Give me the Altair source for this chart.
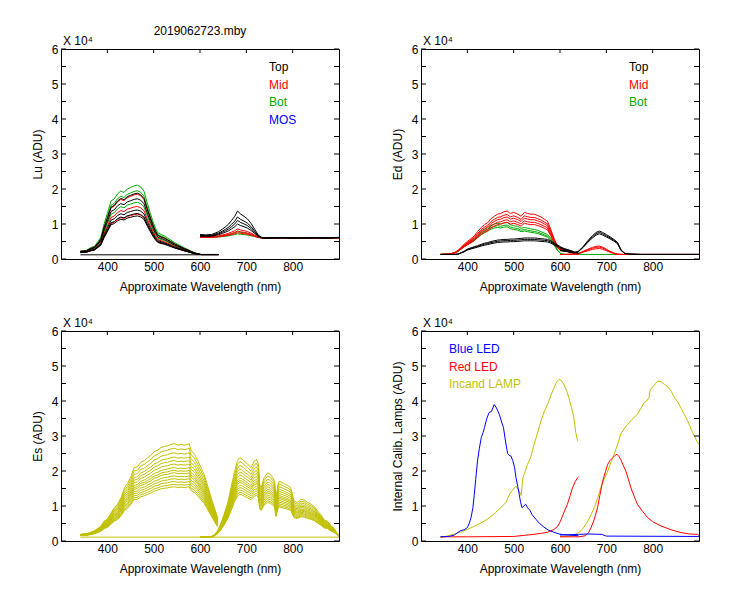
import altair as alt
import pandas as pd

# ---------------- data (values in units of 10^4 ADU) ----------------
X_TICKS = [400, 500, 600, 700, 800]
Y_LABELS = [0, 1, 2, 3, 4, 5, 6]
Y_TICKS = [0, 0.5, 1, 1.5, 2, 2.5, 3, 3.5, 4, 4.5, 5, 5.5, 6]

# Lu panel
LU_WL_A = [342, 355, 365, 372, 380, 386, 393, 400, 408, 415, 422, 429, 436, 443, 450, 458, 465, 472, 479, 487,
           493, 498, 504, 509, 516, 523, 530, 537, 545, 552, 559, 566, 573, 580, 588, 595, 602, 612, 625, 640]
LU_SHAPE_A = [0.23, 0.25, 0.33, 0.36, 0.50, 0.62, 1.00, 1.30, 1.66, 1.72, 1.86, 1.94, 1.90, 2.00, 2.04, 2.09, 2.11, 2.06, 1.94, 1.56,
              1.30, 1.09, 0.88, 0.75, 0.70, 0.66, 0.60, 0.54, 0.47, 0.42, 0.37, 0.32, 0.28, 0.23, 0.18, 0.15, 0.13, 0.13, 0.13, 0.13]
LU_WL_B = [600, 612, 625, 640, 648, 655, 662, 668, 675, 681, 688, 695, 702, 710, 718, 726, 735, 750, 775, 800, 825, 850, 875, 900]
LU_SHAPE_B = [0.70, 0.69, 0.70, 0.78, 0.85, 0.92, 1.00, 1.10, 1.22, 1.37, 1.28, 1.22, 1.15, 1.02, 0.85, 0.68, 0.60, 0.60,
              0.61, 0.60, 0.60, 0.61, 0.60, 0.62]
LU_DARK_A, LU_DARK_B = 0.12, 0.60
LU_TOP_A = [1.23, 1.30, 1.40, 1.72, 1.88]
LU_MID_A = [1.28, 1.50, 1.85]
LU_BOT_A = [1.62, 1.95, 2.11]
LU_TOP_B = [1.00, 1.10, 1.20, 1.37]
LU_MID_B = [0.75, 0.80, 0.86]
LU_BOT_B = [0.72, 0.78]
LU_FLAT_WL = [342, 640]
LU_FLAT = [0.12, 0.12]

# Ed panel
ED_WL_A = [342, 360, 372, 380, 393, 400, 408, 415, 422, 430, 437, 444, 451, 458, 465, 472, 479, 486, 493, 500,
           509, 516, 523, 530, 537, 545, 552, 559, 566, 573, 580, 588, 595, 602, 609, 616, 624, 631, 640]
ED_MID_SHAPE_A = [0.13, 0.14, 0.18, 0.25, 0.42, 0.50, 0.58, 0.66, 0.78, 0.90, 0.98, 1.04, 1.15, 1.22, 1.28, 1.30, 1.35, 1.37, 1.30, 1.33,
                  1.28, 1.22, 1.33, 1.30, 1.28, 1.28, 1.24, 1.20, 1.14, 1.08, 0.85, 0.56, 0.37, 0.30, 0.28, 0.24, 0.20, 0.18, 0.13]
ED_BOT_SHAPE_A = [0.13, 0.14, 0.17, 0.23, 0.38, 0.45, 0.52, 0.58, 0.68, 0.78, 0.84, 0.90, 0.96, 1.00, 1.02, 1.00, 1.03, 1.04, 0.98, 0.95,
                  0.93, 0.88, 0.90, 0.88, 0.86, 0.84, 0.82, 0.78, 0.74, 0.70, 0.60, 0.42, 0.25, 0.15, 0.13, 0.13, 0.13, 0.13, 0.13]
ED_TOP_SHAPE_A = [0.13, 0.13, 0.13, 0.14, 0.22, 0.28, 0.32, 0.35, 0.38, 0.42, 0.45, 0.47, 0.50, 0.52, 0.54, 0.55, 0.56, 0.56, 0.57, 0.57,
                  0.58, 0.59, 0.60, 0.60, 0.60, 0.60, 0.59, 0.58, 0.57, 0.56, 0.52, 0.45, 0.40, 0.34, 0.30, 0.27, 0.24, 0.20, 0.17]
ED_WL_B = [600, 615, 630, 640, 650, 660, 670, 678, 685, 692, 700, 708, 716, 724, 732, 740, 750, 775, 800, 850, 900]
ED_TOP_SHAPE_B = [0.25, 0.22, 0.18, 0.22, 0.35, 0.51, 0.65, 0.74, 0.78, 0.74, 0.68, 0.62, 0.55, 0.47, 0.25, 0.16, 0.14,
                  0.13, 0.13, 0.13, 0.13]
ED_MID_SHAPE_B = [0.13, 0.13, 0.14, 0.16, 0.22, 0.28, 0.33, 0.36, 0.37, 0.34, 0.28, 0.22, 0.17, 0.14, 0.13, 0.13, 0.13,
                  0.13, 0.13, 0.13, 0.13]
ED_BOT_WL_B = [600, 900]
ED_BOT_B = [0.13, 0.13]
ED_DARK = 0.13
ED_TOP_A = [0.52, 0.56, 0.60]
ED_MID_A = [1.05, 1.12, 1.20, 1.27, 1.37]
ED_BOT_A = [0.92, 0.97, 1.04]
ED_TOP_B = [0.72, 0.76, 0.80]
ED_MID_B = [0.30, 0.34, 0.37]

# Es panel
ES_WL_A = [342, 358, 372, 386, 393, 400, 408, 415, 422, 430, 437, 444, 451, 458, 465, 472, 480, 487, 494, 501,
           509, 516, 523, 530, 537, 545, 552, 559, 566, 573, 577, 580, 588, 595, 602, 609, 616, 624, 631, 638]
ES_SHAPE_A = [0.19, 0.22, 0.29, 0.42, 0.57, 0.62, 0.80, 0.95, 1.05, 1.25, 1.52, 1.65, 1.85, 2.10, 2.12, 2.25, 2.30, 2.38, 2.45, 2.55,
              2.60, 2.67, 2.70, 2.72, 2.76, 2.78, 2.74, 2.76, 2.74, 2.76, 2.78, 2.60, 2.48, 2.30, 2.10, 1.90, 1.60, 1.24, 0.95, 0.67]
ES_WL_B = [600, 615, 624, 631, 638, 645, 652, 660, 667, 674, 681, 686, 692, 698, 703, 710, 717, 722, 726, 729,
           732, 738, 746, 752, 757, 761, 764, 768, 771, 780, 790, 796, 803, 810, 818, 825, 832, 840, 847, 854,
           861, 868, 875, 882, 890, 897, 900]
ES_SHAPE_B = [0.11, 0.11, 0.12, 0.18, 0.29, 0.50, 0.76, 1.10, 1.52, 1.95, 2.30, 2.38, 2.33, 2.25, 2.19, 2.10, 2.28, 2.33, 2.20, 1.60,
              1.52, 1.80, 1.95, 1.90, 1.81, 1.70, 1.20, 1.60, 1.71, 1.65, 1.58, 1.52, 1.14, 1.10, 1.19, 1.17, 1.10, 1.05, 0.98, 0.85,
              0.75, 0.60, 0.57, 0.45, 0.35, 0.20, 0.15]
ES_DARK = 0.11
ES_PEAKS_A = [1.55, 1.62, 1.70, 1.78, 1.86, 1.95, 2.02, 2.10, 2.20, 2.30, 2.40, 2.52, 2.65, 2.78]
ES_FLAT_WL = [342, 900]
ES_FLAT = [0.11, 0.11]

# Lamps panel
BLUE_WL_A = [342, 360, 372, 380, 386, 393, 400, 404, 408, 412, 415, 418, 422, 426, 430, 434, 437, 442, 447, 452,
             458, 463, 469, 474, 478, 483, 487, 490, 494, 498, 502, 505, 509, 512, 515, 518, 522, 526, 530, 535,
             540, 548, 556, 565, 575, 587, 598, 608, 620, 640]
BLUE_A = [0.12, 0.13, 0.17, 0.25, 0.30, 0.32, 0.38, 0.50, 0.67, 0.95, 1.33, 1.75, 2.29, 2.65, 2.95, 3.10, 3.24, 3.50, 3.67, 3.70,
          3.90, 3.80, 3.62, 3.40, 3.24, 2.80, 2.50, 2.45, 2.43, 2.30, 2.10, 1.81, 1.55, 1.33, 1.10, 0.95, 1.00, 1.05, 0.95, 0.88,
          0.75, 0.62, 0.50, 0.40, 0.31, 0.25, 0.20, 0.18, 0.17, 0.15]
BLUE_WL_B = [600, 640, 660, 690, 700, 900]
BLUE_B = [0.17, 0.19, 0.20, 0.19, 0.14, 0.13]
RED_WL_A = [342, 400, 500, 544, 560, 573, 587, 595, 601, 608, 616, 622, 627, 633, 638, 640]
RED_A = [0.12, 0.12, 0.13, 0.19, 0.22, 0.25, 0.33, 0.42, 0.57, 0.80, 1.05, 1.30, 1.52, 1.70, 1.81, 1.83]
RED_WL_B = [600, 640, 655, 662, 667, 674, 681, 686, 692, 698, 703, 708, 714, 719, 723, 727, 731, 736, 742, 748,
            753, 760, 767, 778, 789, 800, 818, 840, 861, 880, 897, 900]
RED_B = [0.12, 0.12, 0.15, 0.25, 0.38, 0.62, 0.95, 1.30, 1.71, 1.98, 2.19, 2.30, 2.38, 2.45, 2.48, 2.42, 2.33, 2.18, 2.00, 1.75,
         1.52, 1.28, 1.05, 0.85, 0.67, 0.55, 0.43, 0.32, 0.24, 0.20, 0.19, 0.15]
INC_WL_A = [342, 350, 372, 385, 400, 420, 443, 460, 472, 483, 493, 505, 512, 516, 520, 530, 537, 544, 552, 559,
            566, 573, 580, 587, 593, 598, 603, 608, 614, 619, 625, 630, 634, 638]
INC_A = [0.10, 0.12, 0.20, 0.25, 0.33, 0.45, 0.62, 0.80, 0.95, 1.10, 1.38, 1.57, 1.43, 1.30, 1.81, 2.19, 2.40, 2.76, 3.10, 3.43,
         3.70, 3.90, 4.15, 4.38, 4.55, 4.62, 4.58, 4.48, 4.30, 4.10, 3.80, 3.52, 3.10, 2.86]
INC_WL_B = [600, 624, 635, 645, 652, 660, 667, 674, 681, 688, 695, 703, 710, 717, 724, 731, 738, 746, 756, 767,
            775, 781, 787, 792, 795, 800, 806, 811, 818, 825, 833, 840, 847, 855, 862, 868, 875, 880, 886, 890,
            895, 900]
INC_B = [0.12, 0.15, 0.20, 0.29, 0.40, 0.57, 0.75, 0.95, 1.22, 1.52, 1.75, 2.00, 2.25, 2.48, 2.75, 3.05, 3.20, 3.33, 3.48, 3.62,
         3.80, 3.95, 4.00, 4.10, 4.33, 4.40, 4.50, 4.57, 4.55, 4.48, 4.40, 4.28, 4.10, 3.95, 3.78, 3.62, 3.45, 3.30, 3.10, 3.00,
         2.86, 2.76]

TITLE = "2019062723.mby"
LU_LEGEND = ["Top", "Mid", "Bot", "MOS"]
ED_LEGEND = ["Top", "Mid", "Bot"]
LAMP_LEGEND = ["Blue LED", "Red LED", "Incand LAMP"]

# ---------------- styling ----------------
BLACK, RED, GREEN, BLUE, OLIVE = "#000000", "#FF0000", "#00AA00", "#0000FF", "#C0C000"
FONT = "Liberation Sans"
W, H = 278, 210

# ---------------- helpers ----------------
def family(wl, shape, dark, peaks, prefix, color, ref_max=None):
    """Spectra read as a common shape and the peak level of each curve."""
    rows = []
    top = max(shape) if ref_max is None else ref_max
    for k, p in enumerate(peaks):
        f = (p - dark) / (top - dark)
        for w, s in zip(wl, shape):
            rows.append({"wl": w, "v": dark + f * (s - dark), "cid": f"{prefix}{k}", "col": color})
    return rows


def single(wl, vals, cid, color):
    return [{"wl": w, "v": v, "cid": cid, "col": color} for w, v in zip(wl, vals)]


XENC = alt.X("wl:Q", scale=alt.Scale(domain=[300, 900], nice=False, zero=False),
             axis=alt.Axis(values=X_TICKS, title="Approximate Wavelength (nm)", labelPadding=2, titlePadding=9))


def yenc(title):
    return alt.Y("v:Q", scale=alt.Scale(domain=[0, 6], nice=False, zero=False),
                 axis=alt.Axis(values=Y_LABELS, title=title, labelPadding=3, titlePadding=7))


def text_layer(s, x, y, color="black", align="left"):
    return alt.Chart(pd.DataFrame({"s": [s]})).mark_text(
        align=align, baseline="middle", font=FONT, fontSize=12, color=color).encode(
        x=alt.value(x), y=alt.value(y), text="s:N")


def panel(rows, ytitle, legend, legend_colors, lx, ly, title=None):
    df = pd.DataFrame(rows)
    df["ord"] = range(len(df))
    y = yenc(ytitle)
    lines = alt.Chart(df).mark_line(strokeWidth=1, clip=True).encode(
        x=XENC, y=y, color=alt.Color("col:N", scale=None), detail="cid:N", order="ord:Q")
    ydf = pd.DataFrame({"v": Y_TICKS})
    xdf = pd.DataFrame({"wl": X_TICKS})
    lt = alt.Chart(ydf).mark_rule(color="black", strokeWidth=1).encode(y=y, x=alt.value(0), x2=alt.value(5))
    rt = alt.Chart(ydf).mark_rule(color="black", strokeWidth=1).encode(y=y, x=alt.value(W - 5), x2=alt.value(W))
    tt = alt.Chart(xdf).mark_rule(color="black", strokeWidth=1).encode(x=XENC, y=alt.value(0), y2=alt.value(4))
    layers = [lines, lt, rt, tt, text_layer("X 10\u2074", 2, -8)]
    for i, (lab, c) in enumerate(zip(legend, legend_colors)):
        layers.append(text_layer(lab, lx, ly + 17.5 * i, c))
    if title:
        layers.append(text_layer(title, W / 2, -18, "black", "center"))
    return alt.layer(*layers).properties(width=W, height=H)


# Lu
lu_rows = []
lu_rows += family(LU_WL_A, LU_SHAPE_A, LU_DARK_A, LU_BOT_A, "ga", GREEN)
lu_rows += family(LU_WL_B, LU_SHAPE_B, LU_DARK_B, LU_BOT_B, "gb", GREEN)
lu_rows += family(LU_WL_A, LU_SHAPE_A, LU_DARK_A, LU_MID_A, "ra", RED)
lu_rows += family(LU_WL_B, LU_SHAPE_B, LU_DARK_B, LU_MID_B, "rb", RED)
lu_rows += family(LU_WL_A, LU_SHAPE_A, LU_DARK_A, LU_TOP_A, "ka", BLACK)
lu_rows += family(LU_WL_B, LU_SHAPE_B, LU_DARK_B, LU_TOP_B, "kb", BLACK)
lu_rows += single(LU_FLAT_WL, LU_FLAT, "kflat", BLACK)

# Ed
ed_rows = []
ed_rows += family(ED_WL_A, ED_BOT_SHAPE_A, ED_DARK, ED_BOT_A, "ga", GREEN)
ed_rows += single(ED_BOT_WL_B, ED_BOT_B, "gb", GREEN)
ed_rows += family(ED_WL_A, ED_MID_SHAPE_A, ED_DARK, ED_MID_A, "ra", RED)
ed_rows += family(ED_WL_B, ED_MID_SHAPE_B, ED_DARK, ED_MID_B, "rb", RED)
ed_rows += family(ED_WL_A, ED_TOP_SHAPE_A, ED_DARK, ED_TOP_A, "ka", BLACK)
ed_rows += family(ED_WL_B, ED_TOP_SHAPE_B, ED_DARK, ED_TOP_B, "kb", BLACK)

# Es (both detector halves share each curve's relative level)
es_rows = []
es_rows += single(ES_FLAT_WL, ES_FLAT, "flat", OLIVE)
es_rows += family(ES_WL_A, ES_SHAPE_A, ES_DARK, ES_PEAKS_A, "ea", OLIVE)
es_rows += family(ES_WL_B, ES_SHAPE_B, ES_DARK, ES_PEAKS_A, "eb", OLIVE, ref_max=max(ES_SHAPE_A))

# Lamps
lamp_rows = []
lamp_rows += single(INC_WL_A, INC_A, "ia", OLIVE)
lamp_rows += single(INC_WL_B, INC_B, "ib", OLIVE)
lamp_rows += single(RED_WL_A, RED_A, "ra", RED)
lamp_rows += single(RED_WL_B, RED_B, "rb", RED)
lamp_rows += single(BLUE_WL_A, BLUE_A, "ba", BLUE)
lamp_rows += single(BLUE_WL_B, BLUE_B, "bb", BLUE)

p1 = panel(lu_rows, "Lu (ADU)", LU_LEGEND, [BLACK, RED, GREEN, BLUE], 208, 18, title=TITLE)
p2 = panel(ed_rows, "Ed  (ADU)", ED_LEGEND, [BLACK, RED, GREEN], 208, 18)
p3 = panel(es_rows, "Es  (ADU)", [], [], 0, 0)
p4 = panel(lamp_rows, "Internal Calib. Lamps (ADU)", LAMP_LEGEND, [BLUE, RED, OLIVE], 28, 18)

chart = alt.concat(p1, p2, p3, p4, columns=2, spacing={"row": 72, "column": 82}, bounds="flush").configure_view(
    stroke="black", strokeWidth=1
).configure_axis(
    labelFont=FONT, titleFont=FONT, labelFontSize=12, titleFontSize=12, titleFontWeight="normal",
    labelColor="black", titleColor="black", grid=False, ticks=False, domain=False
).properties(
    padding={"left": 22, "top": 16, "right": 5, "bottom": 5}, background="white"
)

chart.save("out.html", embed_options={"renderer": "svg", "actions": False})
